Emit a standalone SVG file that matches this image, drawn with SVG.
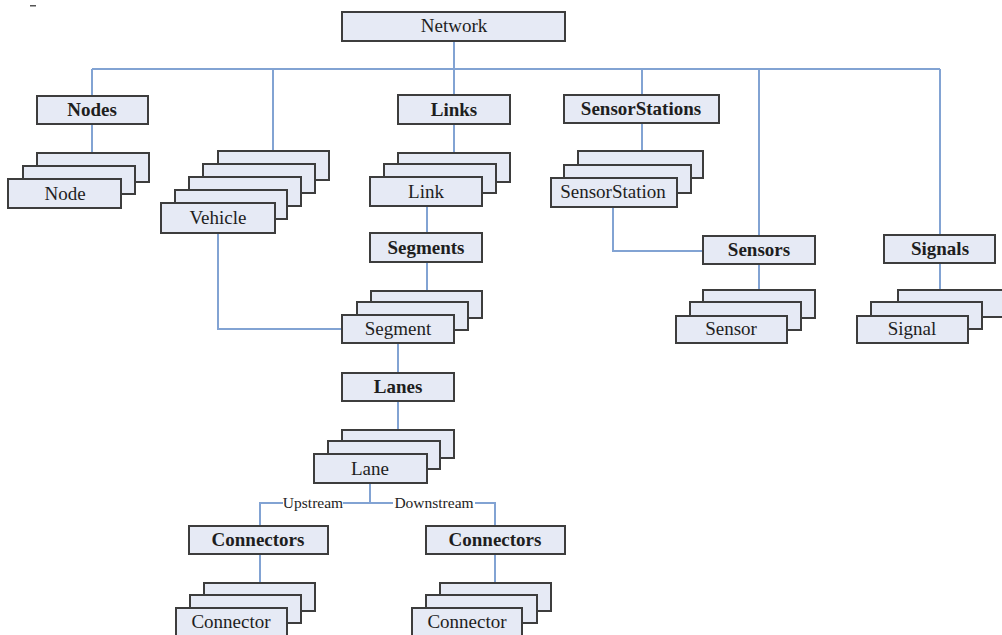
<svg xmlns="http://www.w3.org/2000/svg" width="1002" height="635" viewBox="0 0 1002 635">
<style>
.b{fill:#E6EAF5;stroke:#3d3d3d;stroke-width:2}
.c{fill:none;stroke:#82A3D3;stroke-width:2}
.t{font-family:"Liberation Serif","Times New Roman",serif;font-size:19px;fill:#1e1e1e;text-anchor:middle}
.h{font-weight:bold}
.l{font-family:"Liberation Serif","Times New Roman",serif;font-size:15.5px;fill:#1e1e1e;text-anchor:middle}
</style>
<rect x="30" y="5" width="6" height="1.5" fill="#555"/>
<g id="connectors">
<path class="c" d="M92 69H940"/>
<path class="c" d="M92 69V96M92 124V153"/>
<path class="c" d="M273 69V151"/>
<path class="c" d="M454 41V95M454 124V153"/>
<path class="c" d="M642 69V95M642 123V151"/>
<path class="c" d="M759 69V236M759 264V290"/>
<path class="c" d="M940 69V235M940 263V290"/>
<path class="c" d="M427 206V233M427 262V291"/>
<path class="c" d="M613 207V251H703"/>
<path class="c" d="M218 233V329H342"/>
<path class="c" d="M398 343V373M398 401V430"/>
<path class="c" d="M370 483V503"/>
<path class="c" d="M260 526V503H283M343 503H393M475 503H495V526"/>
<path class="c" d="M260 554V583M495 554V583"/>
<text class="l" x="313" y="508">Upstream</text>
<text class="l" x="434" y="508">Downstream</text>
</g>
<g id="network"><rect class="b" x="342" y="12" width="223" height="29"/><text class="t" x="454" y="32">Network</text></g>
<g id="nodes"><rect class="b" x="37" y="96" width="111" height="28"/><text class="t h" x="92" y="116">Nodes</text></g>
<g id="node">
<rect class="b" x="37" y="153" width="112" height="29"/>
<rect class="b" x="23" y="166" width="112" height="28"/>
<rect class="b" x="8" y="179" width="113" height="29"/>
<text class="t" x="65" y="200">Node</text></g>
<g id="vehicle">
<rect class="b" x="218" y="151" width="111" height="29"/>
<rect class="b" x="203" y="164" width="112" height="29"/>
<rect class="b" x="189" y="177" width="112" height="29"/>
<rect class="b" x="175" y="190" width="112" height="29"/>
<rect class="b" x="161" y="203" width="114" height="30"/>
<text class="t" x="218" y="224">Vehicle</text></g>
<g id="links"><rect class="b" x="398" y="95" width="112" height="29"/><text class="t h" x="454" y="116">Links</text></g>
<g id="link">
<rect class="b" x="398" y="153" width="112" height="29"/>
<rect class="b" x="384" y="164" width="112" height="29"/>
<rect class="b" x="370" y="177" width="112" height="29"/>
<text class="t" x="426" y="198">Link</text></g>
<g id="sensorstations"><rect class="b" x="564" y="95" width="155" height="28"/><text class="t h" x="641" y="115">SensorStations</text></g>
<g id="sensorstation">
<rect class="b" x="578" y="151" width="125" height="27"/>
<rect class="b" x="564" y="165" width="127" height="28"/>
<rect class="b" x="551" y="178" width="126" height="29"/>
<text class="t" x="613" y="198">SensorStation</text></g>
<g id="sensors"><rect class="b" x="703" y="236" width="112" height="28"/><text class="t h" x="759" y="256">Sensors</text></g>
<g id="sensor">
<rect class="b" x="703" y="290" width="112" height="28"/>
<rect class="b" x="690" y="302" width="111" height="28"/>
<rect class="b" x="676" y="316" width="111" height="27"/>
<text class="t" x="731" y="335">Sensor</text></g>
<g id="signals"><rect class="b" x="884" y="235" width="111" height="28"/><text class="t h" x="940" y="255">Signals</text></g>
<g id="signal">
<rect class="b" x="898" y="290" width="112" height="27"/>
<rect class="b" x="871" y="302" width="111" height="27"/>
<rect class="b" x="857" y="316" width="111" height="27"/>
<text class="t" x="912" y="335">Signal</text></g>
<g id="segments"><rect class="b" x="370" y="233" width="112" height="29"/><text class="t h" x="426" y="254">Segments</text></g>
<g id="segment">
<rect class="b" x="371" y="291" width="111" height="27"/>
<rect class="b" x="357" y="302" width="111" height="28"/>
<rect class="b" x="342" y="315" width="112" height="28"/>
<text class="t" x="398" y="335">Segment</text></g>
<g id="lanes"><rect class="b" x="342" y="373" width="112" height="28"/><text class="t h" x="398" y="393">Lanes</text></g>
<g id="lane">
<rect class="b" x="342" y="430" width="112" height="28"/>
<rect class="b" x="328" y="441" width="112" height="28"/>
<rect class="b" x="314" y="454" width="113" height="29"/>
<text class="t" x="370" y="475">Lane</text></g>
<g id="connectors-up"><rect class="b" x="189" y="526" width="139" height="28"/><text class="t h" x="258" y="546">Connectors</text></g>
<g id="connector-up">
<rect class="b" x="204" y="583" width="111" height="28"/>
<rect class="b" x="190" y="595" width="111" height="28"/>
<rect class="b" x="176" y="608" width="111" height="30"/>
<text class="t" x="231" y="628">Connector</text></g>
<g id="connectors-down"><rect class="b" x="426" y="526" width="139" height="28"/><text class="t h" x="495" y="546">Connectors</text></g>
<g id="connector-down">
<rect class="b" x="440" y="583" width="111" height="28"/>
<rect class="b" x="426" y="595" width="111" height="28"/>
<rect class="b" x="412" y="608" width="110" height="30"/>
<text class="t" x="467" y="628">Connector</text></g>
</svg>
